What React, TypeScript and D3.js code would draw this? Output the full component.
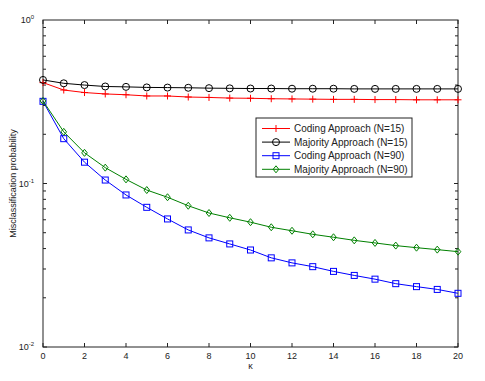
import React, { useEffect, useRef } from 'react';
import * as d3 from 'd3';

const kappa = d3.range(0, 21);
const codingN15 = [0.414, 0.373, 0.36, 0.353, 0.349, 0.343, 0.343, 0.338, 0.336, 0.333, 0.332, 0.33, 0.329, 0.328, 0.327, 0.327, 0.326, 0.326, 0.325, 0.325, 0.325];
const majorityN15 = [0.43, 0.41, 0.4, 0.392, 0.39, 0.387, 0.386, 0.385, 0.383, 0.382, 0.381, 0.381, 0.38, 0.38, 0.38, 0.379, 0.379, 0.379, 0.379, 0.379, 0.379];
const codingN90 = [0.318, 0.188, 0.135, 0.105, 0.0851, 0.0715, 0.0607, 0.052, 0.0465, 0.0427, 0.0392, 0.0351, 0.0327, 0.031, 0.029, 0.0274, 0.026, 0.0244, 0.0234, 0.0225, 0.0213];
const majorityN90 = [0.32, 0.207, 0.154, 0.125, 0.106, 0.0912, 0.0824, 0.0731, 0.066, 0.0617, 0.058, 0.054, 0.0514, 0.0489, 0.0469, 0.0449, 0.0433, 0.0417, 0.0405, 0.0394, 0.0383];
const xTicks = [0, 2, 4, 6, 8, 10, 12, 14, 16, 18, 20];
const yDecades = [1, 0.1, 0.01];
const yExponents = ['0', '-1', '-2'];

const series = [
  { name: 'Coding Approach (N=15)', values: codingN15, color: '#ff0000', marker: 'plus' },
  { name: 'Majority Approach (N=15)', values: majorityN15, color: '#000000', marker: 'circle' },
  { name: 'Coding Approach (N=90)', values: codingN90, color: '#0000ff', marker: 'square' },
  { name: 'Majority Approach (N=90)', values: majorityN90, color: '#008000', marker: 'diamond' },
];

const drawMarker = (g, type, color, x, y) => {
  if (type === 'plus') {
    g.append('path').attr('d', `M${x - 3.5},${y}H${x + 3.5}M${x},${y - 3.5}V${y + 3.5}`)
      .attr('stroke', color).attr('fill', 'none');
  } else if (type === 'circle') {
    g.append('circle').attr('cx', x).attr('cy', y).attr('r', 3.5)
      .attr('stroke', color).attr('fill', 'none');
  } else if (type === 'square') {
    g.append('rect').attr('x', x - 3).attr('y', y - 3).attr('width', 6).attr('height', 6)
      .attr('stroke', color).attr('fill', 'none');
  } else {
    g.append('path').attr('d', `M${x},${y - 3.5}L${x + 2.8},${y}L${x},${y + 3.5}L${x - 2.8},${y}Z`)
      .attr('stroke', color).attr('fill', 'none');
  }
};

const App = () => {
  const svgRef = useRef(null);

  useEffect(() => {
    const svg = d3.select(svgRef.current);
    svg.selectAll('*').remove();
    const left = 43, right = 458, top = 20, bottom = 347;

    const x = d3.scaleLinear().domain([0, 20]).range([left, right]);
    const y = d3.scaleLog().domain([0.01, 1]).range([bottom, top]);

    const font = 'Liberation Sans, Arial, sans-serif';

    // frame
    svg.append('rect').attr('x', left).attr('y', top).attr('width', right - left).attr('height', bottom - top)
      .attr('fill', 'none').attr('stroke', '#222').attr('stroke-width', 1);

    // x ticks
    const tg = svg.append('g').attr('stroke', '#222');
    xTicks.forEach(t => {
      tg.append('line').attr('x1', x(t)).attr('x2', x(t)).attr('y1', bottom).attr('y2', bottom - 4);
      tg.append('line').attr('x1', x(t)).attr('x2', x(t)).attr('y1', top).attr('y2', top + 4);
    });

    // y ticks (log, minor)
    [0.01, 0.1].forEach(dec => {
      d3.range(1, 10).forEach(m => {
        const v = dec * m;
        const len = m === 1 ? 4 : 3;
        tg.append('line').attr('x1', left).attr('x2', left + len).attr('y1', y(v)).attr('y2', y(v));
        tg.append('line').attr('x1', right).attr('x2', right - len).attr('y1', y(v)).attr('y2', y(v));
      });
    });

    // x tick labels
    svg.append('g').selectAll('text').data(xTicks).join('text')
      .attr('x', d => x(d)).attr('y', bottom + 12)
      .attr('text-anchor', 'middle').attr('font-family', font).attr('font-size', 9)
      .attr('fill', '#222').text(d => d);

    // y tick labels
    yDecades.forEach((v, i) => {
      const t = svg.append('text').attr('x', left - 9).attr('y', y(v) + 3)
        .attr('text-anchor', 'end').attr('font-family', font).attr('font-size', 9).attr('fill', '#222');
      t.append('tspan').text('10');
      t.append('tspan').attr('dy', -4).attr('font-size', 6).text(yExponents[i]);
    });

    // axis titles
    svg.append('text').attr('x', (left + right) / 2).attr('y', bottom + 22)
      .attr('text-anchor', 'middle').attr('font-family', font).attr('font-size', 9).attr('fill', '#222').text('κ');
    svg.append('text').attr('transform', `translate(16,${(top + bottom) / 2}) rotate(-90)`)
      .attr('text-anchor', 'middle').attr('font-family', font).attr('font-size', 9).attr('fill', '#222')
      .text('Misclassification probability');

    // lines + markers
    const line = d3.line().x(d => x(d[0])).y(d => y(d[1]));
    series.forEach(s => {
      const pts = kappa.map((k, i) => [k, s.values[i]]);
      svg.append('path').datum(pts).attr('d', line).attr('fill', 'none')
        .attr('stroke', s.color).attr('stroke-width', 1);
      const mg = svg.append('g');
      pts.forEach(p => drawMarker(mg, s.marker, s.color, x(p[0]), y(p[1])));
    });

    // legend
    const lx = 256, ly = 118, lw = 156, lh = 59;
    const lg = svg.append('g');
    lg.append('rect').attr('x', lx).attr('y', ly).attr('width', lw).attr('height', lh)
      .attr('fill', '#fff').attr('stroke', '#222');
    series.forEach((s, i) => {
      const yy = ly + 10.5 + i * 13.6;
      lg.append('line').attr('x1', lx + 6).attr('x2', lx + 34).attr('y1', yy).attr('y2', yy)
        .attr('stroke', s.color);
      drawMarker(lg, s.marker, s.color, lx + 20, yy);
      lg.append('text').attr('x', lx + 38).attr('y', yy + 3.5)
        .attr('font-family', font).attr('font-size', 10).attr('fill', '#222').text(s.name);
    });
  }, []);

  return (
    <svg ref={svgRef} width={485} height={381}
      style={{ position: 'absolute', left: 0, top: 0, background: '#fff' }} />
  );
};

export default App;
